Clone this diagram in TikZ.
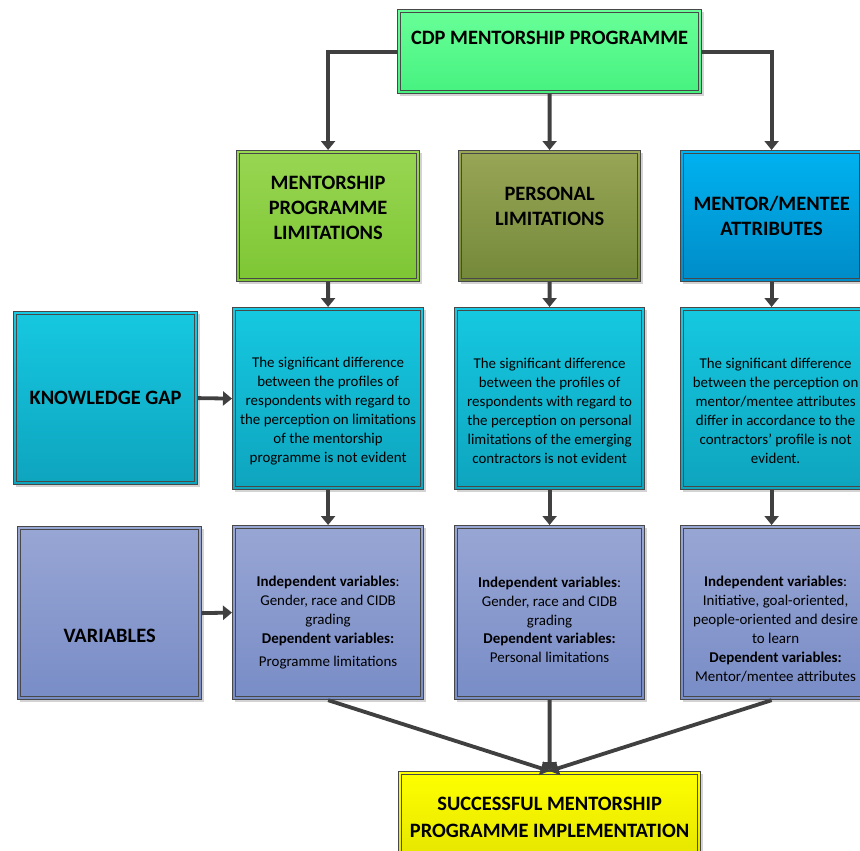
\documentclass[tikz,border=0pt]{standalone}
\usepackage{fontspec}
\setmainfont{Carlito}
\usetikzlibrary{arrows.meta,shadows}
\definecolor{boxline}{RGB}{72,72,72}
\definecolor{arrline}{RGB}{64,64,64}
\definecolor{cdptop}{RGB}{104,255,152}
\definecolor{cdpbot}{RGB}{70,242,128}
\definecolor{mpltop}{RGB}{152,214,82}
\definecolor{mplbot}{RGB}{126,198,52}
\definecolor{pltop}{RGB}{152,166,86}
\definecolor{plbot}{RGB}{116,136,58}
\definecolor{mmatop}{RGB}{0,178,240}
\definecolor{mmabot}{RGB}{0,140,200}
\definecolor{kgtop}{RGB}{22,200,225}
\definecolor{kgbot}{RGB}{14,164,190}
\definecolor{vartop}{RGB}{152,166,212}
\definecolor{varbot}{RGB}{120,140,198}
\definecolor{suctop}{RGB}{255,255,0}
\definecolor{sucbot}{RGB}{228,228,0}
\newcommand{\topgap}[1]{\rule{0pt}{#1bp}}
\begin{document}
\begin{tikzpicture}[x=1bp,y=-1bp,
  box/.style 2 args={draw=boxline, line width=1.2bp, top color=#1top, bottom color=#1bot,
    drop shadow={opacity=0.35, shadow xshift=2bp, shadow yshift=-2bp},
    anchor=north west, align=center, inner sep=0pt,
    path picture={\draw[boxline, line width=1bp]
      ([shift={(3bp,-3bp)}]path picture bounding box.north west) rectangle
      ([shift={(-3bp,3bp)}]path picture bounding box.south east);},
    font=#2},
  boxsize/.style 2 args={minimum width=#1bp, minimum height=#2bp},
  head/.style={box={#1}{\fontsize{20.5}{25}\selectfont\bfseries}},
  body/.style={box={#1}{\fontsize{15}{19}\selectfont}},
  arr/.style={draw=arrline, line width=3.8bp, -{Triangle[width=14bp,length=9bp]}}]
\useasboundingbox (0,0) rectangle (860,851);
\node[head=cdp, boxsize={304}{84}, text depth=27bp] (cdp) at (397,9) {CDP MENTORSHIP PROGRAMME};
\node[head=mpl, boxsize={183}{131}, text depth=16bp] (mpl) at (236,150) {MENTORSHIP\\PROGRAMME\\LIMITATIONS};
\node[head=pl, boxsize={182}{131}, text depth=19bp] (pl) at (458,150) {PERSONAL\\LIMITATIONS};
\node[head=mma, boxsize={182}{131}] (mma) at (680,150) {MENTOR/MENTEE\\ATTRIBUTES};
\node[head=kg, boxsize={184}{173}] (kg) at (13,311) {KNOWLEDGE GAP};
\node[body=kg, boxsize={191}{182}] (kd1) at (232,307) {\topgap{35}The significant difference\\between the profiles of\\respondents with regard to\\the perception on limitations\\of the mentorship\\programme is not evident};
\node[body=kg, boxsize={190}{182}] (kd2) at (454,307) {\topgap{35}The significant difference\\between the profiles of\\respondents with regard to\\the perception on personal\\limitations of the emerging\\contractors is not evident};
\node[body=kg, boxsize={190}{182}] (kd3) at (680,307) {\topgap{35}The significant difference\\between the perception on\\mentor/mentee attributes\\differ in accordance to the\\contractors' profile is not\\evident.};
\node[head=var, boxsize={184}{173}, text height=58bp] (var) at (17,526) {VARIABLES};
\node[body=var, boxsize={191}{174}] (vd1) at (232,525) {\topgap{31}\textbf{Independent variables}:\\Gender, race and CIDB\\grading\\\textbf{Dependent variables:}\\[4bp]Programme limitations};
\node[body=var, boxsize={190}{174}] (vd2) at (454,525) {\topgap{25}\textbf{Independent variables}:\\Gender, race and CIDB\\grading\\\textbf{Dependent variables:}\\Personal limitations};
\node[body=var, boxsize={190}{174}] (vd3) at (680,525) {\topgap{43}\textbf{Independent variables}:\\Initiative, goal-oriented,\\people-oriented and desire\\to learn\\\textbf{Dependent variables:}\\Mentor/mentee attributes};
\node[head=suc, boxsize={302}{91}, font=\fontsize{20.5}{27}\selectfont\bfseries] (suc) at (398,771) {SUCCESSFUL MENTORSHIP\\PROGRAMME IMPLEMENTATION};
\draw[arr] (cdp.west) -| (mpl.north);
\draw[arr] (cdp.east) -| (mma.north);
\draw[arr] (cdp.south) -- (pl.north);
\draw[arr] (mpl.south) -- (kd1.north);
\draw[arr] (pl.south) -- (kd2.north);
\draw[arr] (mma.south) -- (mma.south |- kd3.north);
\draw[arr] (kd1.south) -- (vd1.north);
\draw[arr] (kd2.south) -- (vd2.north);
\draw[arr] (mma.south |- kd3.south) -- (mma.south |- vd3.north);
\draw[arr] (kg.east) -- (kd1.west);
\draw[arr] (var.east) -- (vd1.west);
\draw[arr] (vd1.south) -- (suc.north);
\draw[arr] (vd2.south) -- (suc.north);
\draw[arr] (mma.south |- vd3.south) -- (suc.north);
\end{tikzpicture}
\end{document}
